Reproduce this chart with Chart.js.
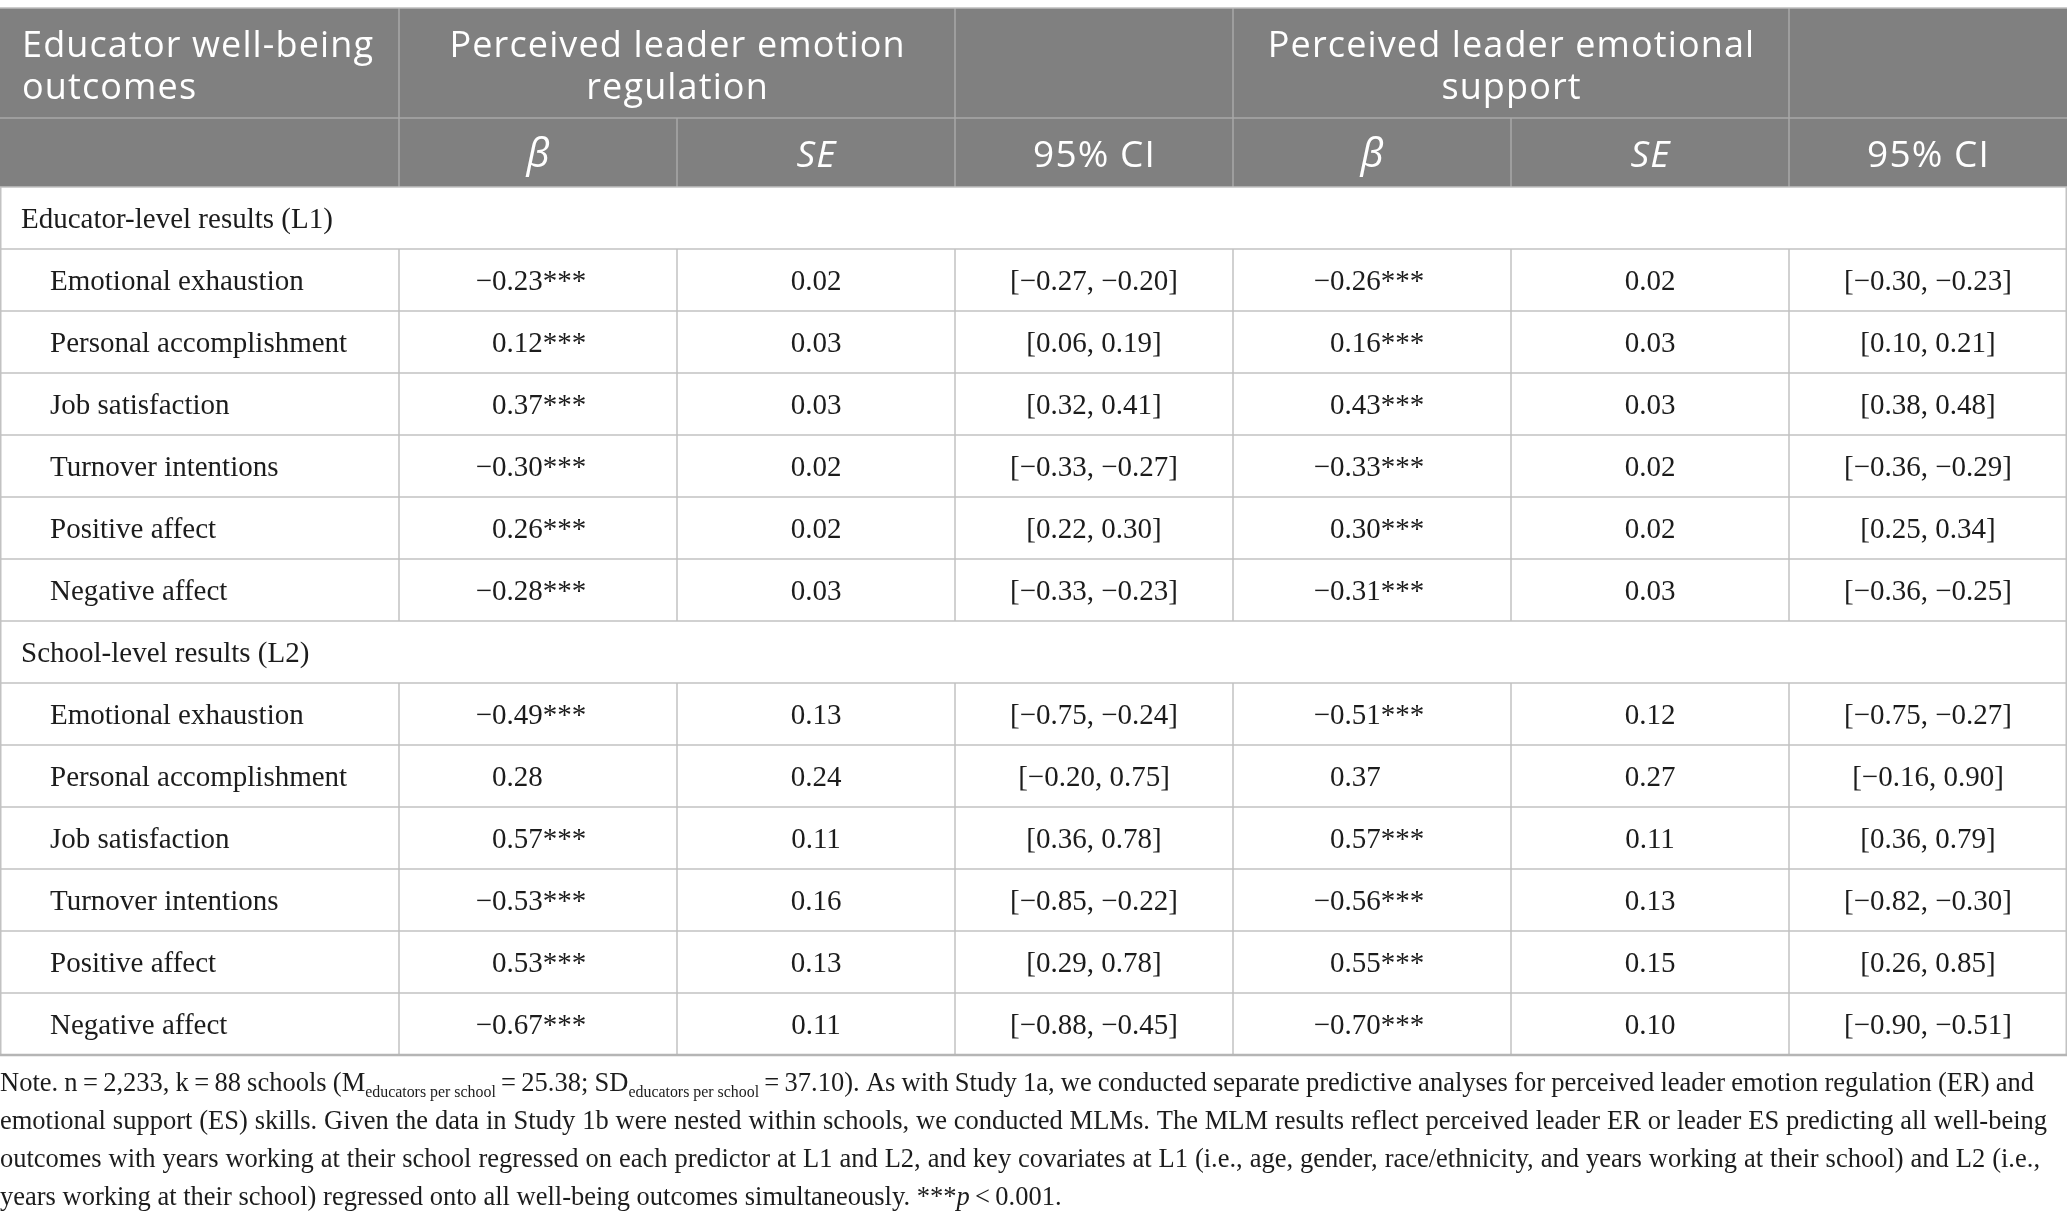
<!DOCTYPE html>
<html>
<head>
<meta charset="utf-8">
<script src="https://cdn.jsdelivr.net/npm/chart.js@4.4.1/dist/chart.umd.min.js"></script>
<style>
html,body{margin:0;padding:0;background:#fff;}
#wrap{width:2067px;height:1225px;position:relative;}
canvas{display:block;}
</style>
</head>
<body>
<div id="wrap"><canvas id="c" width="2067" height="1225"></canvas></div>
<script>
// ---------------- DATA ----------------
const sectionLabels = ['Educator-level results (L1)', 'School-level results (L2)'];
const outcomes = ['Emotional exhaustion', 'Personal accomplishment', 'Job satisfaction',
                  'Turnover intentions', 'Positive affect', 'Negative affect'];
const groupHeaders = [['Perceived leader emotion', 'regulation'], ['Perceived leader emotional', 'support']];
const firstHeader = ['Educator well-being', 'outcomes'];
const statHeaders = ['β', 'SE', '95% CI'];

// Educator-level (L1)
const erBetaL1 = [-0.23, 0.12, 0.37, -0.30, 0.26, -0.28];
const erSigL1  = ['***', '***', '***', '***', '***', '***'];
const erSeL1   = [0.02, 0.03, 0.03, 0.02, 0.02, 0.03];
const erLoL1   = [-0.27, 0.06, 0.32, -0.33, 0.22, -0.33];
const erHiL1   = [-0.20, 0.19, 0.41, -0.27, 0.30, -0.23];
const esBetaL1 = [-0.26, 0.16, 0.43, -0.33, 0.30, -0.31];
const esSigL1  = ['***', '***', '***', '***', '***', '***'];
const esSeL1   = [0.02, 0.03, 0.03, 0.02, 0.02, 0.03];
const esLoL1   = [-0.30, 0.10, 0.38, -0.36, 0.25, -0.36];
const esHiL1   = [-0.23, 0.21, 0.48, -0.29, 0.34, -0.25];

// School-level (L2)
const erBetaL2 = [-0.49, 0.28, 0.57, -0.53, 0.53, -0.67];
const erSigL2  = ['***', '', '***', '***', '***', '***'];
const erSeL2   = [0.13, 0.24, 0.11, 0.16, 0.13, 0.11];
const erLoL2   = [-0.75, -0.20, 0.36, -0.85, 0.29, -0.88];
const erHiL2   = [-0.24, 0.75, 0.78, -0.22, 0.78, -0.45];
const esBetaL2 = [-0.51, 0.37, 0.57, -0.56, 0.55, -0.70];
const esSigL2  = ['***', '', '***', '***', '***', '***'];
const esSeL2   = [0.12, 0.27, 0.11, 0.13, 0.15, 0.10];
const esLoL2   = [-0.75, -0.16, 0.36, -0.82, 0.26, -0.90];
const esHiL2   = [-0.27, 0.90, 0.79, -0.30, 0.85, -0.51];

// Note lines (segments: t=text, sub=subscript, it=italic)
const noteLines = [
  [{t:'Note. n\u2009=\u20092,233, k\u2009=\u200988 schools (M'}, {t:'educators per school', sub:true},
   {t:'\u2009=\u200925.38; SD'}, {t:'educators per school', sub:true},
   {t:'\u2009=\u200937.10). As with Study 1a, we conducted separate predictive analyses for perceived leader emotion regulation (ER) and'}],
  [{t:'emotional support (ES) skills. Given the data in Study 1b were nested within schools, we conducted MLMs. The MLM results reflect perceived leader ER or leader ES predicting all well-being'}],
  [{t:'outcomes with years working at their school regressed on each predictor at L1 and L2, and key covariates at L1 (i.e., age, gender, race/ethnicity, and years working at their school) and L2 (i.e.,'}],
  [{t:'years working at their school) regressed onto all well-being outcomes simultaneously. ***'}, {t:'p', it:true}, {t:'\u2009<\u20090.001.'}]
];

// ---------------- LAYOUT / STYLE ----------------
const colWidths = [399, 278, 278, 278, 278, 278, 278];
const rowHeights = [110, 69].concat(new Array(14).fill(62));
const noteEnds = [2034, 2047, 2040, null];
const noteLine4Width = 1062;
const betaDecimalOffset = {1: 93, 4: 97};
const HEADER_BG = '#808080';
const HEADER_LINE = '#a9a9a9';
const BODY_LINE = '#c2c2c2';
const TEXT = '#1c1c1c';
const SERIF = '"Liberation Serif", "Times New Roman", serif';
const SANS = '"Open Sans", "Noto Sans", sans-serif';

const cum = a => a.reduce((acc, v) => { acc.push(acc[acc.length - 1] + v); return acc; }, [0]);
const colEdges = cum(colWidths);
const rowEdges = cum(rowHeights);
const fmt = v => (v < 0 ? '\u2212' : '') + Math.abs(v).toFixed(2);
const ci = (lo, hi) => '[' + fmt(lo) + ', ' + fmt(hi) + ']';

// Build the body rows from the data arrays
const bodyRows = [];
[[erBetaL1, erSigL1, erSeL1, erLoL1, erHiL1, esBetaL1, esSigL1, esSeL1, esLoL1, esHiL1],
 [erBetaL2, erSigL2, erSeL2, erLoL2, erHiL2, esBetaL2, esSigL2, esSeL2, esLoL2, esHiL2]].forEach((g, gi) => {
  bodyRows.push({type: 'section', label: sectionLabels[gi]});
  outcomes.forEach((o, i) => {
    bodyRows.push({type: 'data', label: o, cells: [
      {beta: g[0][i], sig: g[1][i]}, fmt(g[2][i]), ci(g[3][i], g[4][i]),
      {beta: g[5][i], sig: g[6][i]}, fmt(g[7][i]), ci(g[8][i], g[9][i])
    ]});
  });
});

function setLS(ctx, v) { if ('letterSpacing' in ctx) ctx.letterSpacing = v + 'px'; }

function drawRich(ctx, segs, x0, yb, size, target, doDraw) {
  const toks = [];
  segs.forEach(s => {
    const fs = s.sub ? size * 0.6 : size;
    const font = (s.it ? 'italic ' : '') + fs + 'px ' + SERIF;
    s.t.split(/( )/).forEach(p => {
      if (!p) return;
      toks.push({p, font, dy: s.sub ? size * 0.24 : 0, space: p === ' ' && !s.sub});
    });
  });
  let nat = 0, nsp = 0;
  toks.forEach(t => { ctx.font = t.font; t.w = ctx.measureText(t.p).width; nat += t.w; if (t.space) nsp++; });
  if (!doDraw) return nat;
  const extra = (target && nsp) ? (target - x0 - nat) / nsp : 0;
  let xx = x0;
  toks.forEach(t => {
    ctx.font = t.font;
    if (t.p !== ' ') ctx.fillText(t.p, xx, yb + t.dy);
    xx += t.w + (t.space ? extra : 0);
  });
  return nat;
}

const tablePlugin = {
  id: 'tablePlugin',
  afterDraw(chart) {
    const {ctx, chartArea} = chart;
    const xs = chart.scales.x, ys = chart.scales.y;
    const X = i => xs.getPixelForValue(colEdges[i]);
    const Y = j => ys.getPixelForValue(rowEdges[j]);
    const nCols = colWidths.length;
    ctx.save();
    ctx.textBaseline = 'alphabetic';
    setLS(ctx, 0);

    // Header background
    ctx.fillStyle = HEADER_BG;
    ctx.fillRect(X(0), Y(0), X(nCols) - X(0), Y(2) - Y(0));

    const hline = (y, x0, x1, color, w) => {
      ctx.strokeStyle = color; ctx.lineWidth = w;
      ctx.beginPath(); ctx.moveTo(x0, y); ctx.lineTo(x1, y); ctx.stroke();
    };
    const vline = (x, y0, y1, color, w) => {
      ctx.strokeStyle = color; ctx.lineWidth = w;
      ctx.beginPath(); ctx.moveTo(x, y0); ctx.lineTo(x, y1); ctx.stroke();
    };

    // Header lines
    hline(Y(1), X(0), X(nCols), HEADER_LINE, 1.5);
    [1, 3, 4, 6].forEach(c => vline(X(c), Y(0), Y(1), HEADER_LINE, 1.5));
    for (let c = 1; c < nCols; c++) vline(X(c), Y(1), Y(2), HEADER_LINE, 1.5);

    // Body lines
    for (let r = 2; r <= rowEdges.length - 1; r++) hline(Y(r), X(0), X(nCols), BODY_LINE, 1.5);
    bodyRows.forEach((row, k) => {
      const r = k + 2;
      vline(X(0) + 0.75, Y(r), Y(r + 1), BODY_LINE, 1.5);
      vline(X(nCols) - 0.75, Y(r), Y(r + 1), BODY_LINE, 1.5);
      if (row.type === 'data') for (let c = 1; c < nCols; c++) vline(X(c), Y(r), Y(r + 1), BODY_LINE, 1.5);
    });
    hline(Y(0), X(0), X(nCols), '#bdbdbd', 1.5);
    hline(Y(rowEdges.length - 1), X(0), X(nCols), '#b5b5b5', 2.5);

    // Header text
    ctx.fillStyle = '#ffffff';
    const hs = 36;
    ctx.font = hs + 'px ' + SANS;
    const wRef = ctx.measureText(firstHeader[0]).width;
    const ls = Math.max(0, Math.min(3, (351 - wRef) / (firstHeader[0].length - 1)));
    setLS(ctx, ls);
    const c1 = (Y(0) + Y(1)) / 2;
    const b1 = c1 - 21 + 0.714 * hs / 2 + 2.5, b2 = b1 + 42;
    ctx.textAlign = 'left';
    ctx.fillText(firstHeader[0], X(0) + 22, b1);
    ctx.fillText(firstHeader[1], X(0) + 22, b2);
    ctx.textAlign = 'center';
    [[1, 3], [4, 6]].forEach((span, gi) => {
      const cx = (X(span[0]) + X(span[1])) / 2 + ls / 2;
      ctx.fillText(groupHeaders[gi][0], cx, b1);
      ctx.fillText(groupHeaders[gi][1], cx, b2);
    });
    const hs2 = 37;
    const c2 = (Y(1) + Y(2)) / 2;
    const b3 = c2 + 0.714 * hs2 / 2 + 1;
    for (let c = 1; c < nCols; c++) {
      const lab = statHeaders[(c - 1) % 3];
      ctx.font = (lab === '95% CI' ? '' : 'italic ') + (lab === 'β' ? hs2 + 3 : hs2) + 'px ' + SANS;
      ctx.fillText(lab, (X(c) + X(c + 1)) / 2 + ls / 2, b3);
    }
    setLS(ctx, 0);

    // Body text
    const bs = 29;
    ctx.fillStyle = TEXT;
    ctx.font = bs + 'px ' + SERIF;
    bodyRows.forEach((row, k) => {
      const r = k + 2;
      const cy = (Y(r) + Y(r + 1)) / 2;
      const base = cy + 0.33 * bs;
      ctx.textAlign = 'left';
      if (row.type === 'section') {
        ctx.fillText(row.label, X(0) + 21, base);
        return;
      }
      ctx.fillText(row.label, X(0) + 50, base);
      row.cells.forEach((cell, ci2) => {
        const c = ci2 + 1;
        if (typeof cell === 'object') {
          const ax = X(c) + betaDecimalOffset[c];
          ctx.textAlign = 'left';
          ctx.fillText(Math.abs(cell.beta).toFixed(2) + cell.sig, ax, base);
          if (cell.beta < 0) { ctx.textAlign = 'right'; ctx.fillText('\u2212', ax, base); }
        } else {
          ctx.textAlign = 'center';
          ctx.fillText(cell, (X(c) + X(c + 1)) / 2, base);
        }
      });
    });

    // Note
    ctx.textAlign = 'left';
    ctx.fillStyle = TEXT;
    const natAt100 = drawRich(ctx, noteLines[3], 0, 0, 100, null, false);
    const ns = 100 * noteLine4Width / natAt100;
    const nb0 = chartArea.bottom + 36;
    noteLines.forEach((segs, i) => {
      drawRich(ctx, segs, X(0), nb0 + i * 38, ns, noteEnds[i], true);
    });
    ctx.restore();
  }
};

const chart = new Chart(document.getElementById('c'), {
  type: 'scatter',
  data: { datasets: [] },
  options: {
    responsive: false,
    devicePixelRatio: 1,
    animation: false,
    events: [],
    layout: { padding: { left: 0, right: 0, top: 8, bottom: 1225 - 8 - rowEdges[rowEdges.length - 1] } },
    plugins: { legend: { display: false }, tooltip: { enabled: false }, title: { display: false } },
    scales: {
      x: { type: 'linear', display: false, min: 0, max: colEdges[colEdges.length - 1] },
      y: { type: 'linear', display: false, reverse: true, min: 0, max: rowEdges[rowEdges.length - 1] }
    }
  },
  plugins: [tablePlugin]
});
if (document.fonts && document.fonts.ready) document.fonts.ready.then(() => chart.draw());
</script>
</body>
</html>
